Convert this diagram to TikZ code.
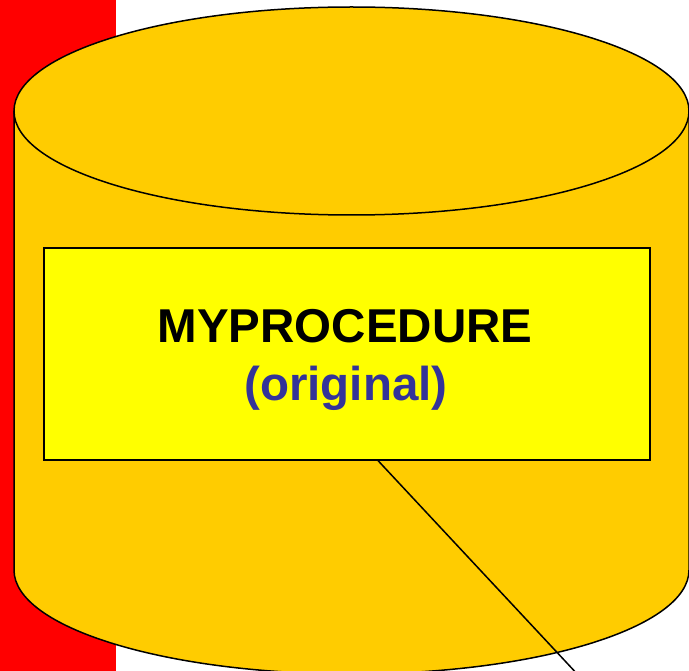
\documentclass[tikz,border=0pt]{standalone}
\usepackage{fontspec}
\setmainfont{Liberation Sans}
\definecolor{gold}{HTML}{FFCC00}
\definecolor{yel}{HTML}{FFFF00}
\definecolor{redbar}{HTML}{FF0000}
\definecolor{txtblue}{HTML}{333399}
\begin{document}
\begin{tikzpicture}[x=1pt,y=-1pt,
  outline/.style={draw=black,line width=1.5pt},
  labeltext/.style={font=\bfseries\fontsize{47.5}{52}\selectfont,inner sep=0pt,anchor=base}]
\useasboundingbox (0,0) rectangle (689,671);
\clip (0,0) rectangle (689,671);
\fill[redbar] (0,0) rectangle (116,671);
% cylinder body
\filldraw[fill=gold,outline] (14,111) -- (14,570) arc[start angle=180,end angle=360,x radius=337.5,y radius=-104] -- (689,111);
% top ellipse
\filldraw[fill=gold,outline] (351.5,111) ellipse[x radius=337.5,y radius=104];
% label box
\node[draw=black,line width=1.2pt,fill=yel,minimum width=606pt,minimum height=212pt,inner sep=0pt] (box) at (347,354) {};
\node[labeltext] (t1) at (345,343) {MYPROCEDURE};
\node[labeltext,text=txtblue] (t2) at (346,401) {(original)};
\coordinate (lineend) at (580,677);
\draw[line width=1.5pt] (box.south -| 378,0) -- (lineend);
\end{tikzpicture}
\end{document}
